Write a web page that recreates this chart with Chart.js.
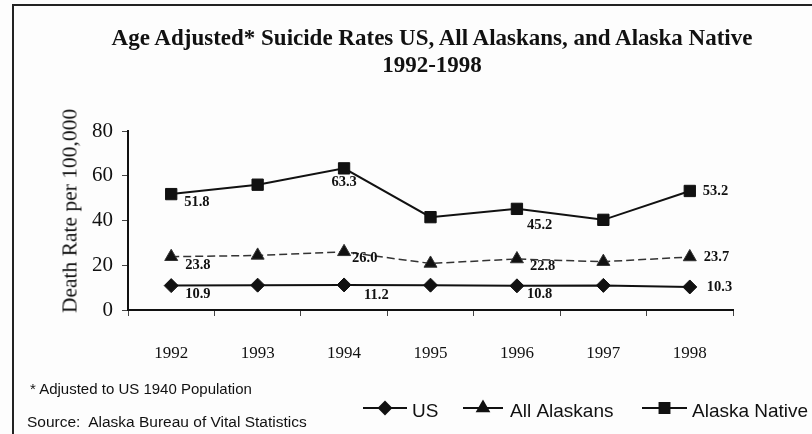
<!DOCTYPE html>
<html>
<head>
<meta charset="utf-8">
<script src="https://cdn.jsdelivr.net/npm/chart.js@4"></script>
<style>
  html, body { margin: 0; padding: 0; background: #fff; }
  #wrap { position: relative; width: 812px; height: 434px; overflow: hidden; background: #fdfdfd; }
  #frame { position: absolute; left: 12px; top: 4px; right: -4px; bottom: -4px; border-left: 2px solid #222; border-top: 2px solid #222; }
  canvas { position: absolute; left: 0; top: 0; }
  .txt { position: absolute; color: #111; white-space: nowrap; }
  #title { left: 0; width: 864px; top: 24px; text-align: center; font: bold 23px "Liberation Serif", serif; line-height: 27px; }
  #ytitle { left: 70px; top: 211px; font: 21.5px "Liberation Serif", serif; transform: translate(-50%, -50%) rotate(-90deg); }
  #note { left: 30px; top: 380px; font: 15px "Liberation Sans", sans-serif; }
  #source { left: 27px; top: 413px; font: 15.5px "Liberation Sans", sans-serif; }
</style>
</head>
<body>
<div id="wrap">
  <div id="frame"></div>
  <canvas id="chart" width="812" height="434"></canvas>
  <div id="title" class="txt">Age Adjusted* Suicide Rates US, All Alaskans, and Alaska Native<br>1992-1998</div>
  <div id="ytitle" class="txt">Death Rate per 100,000</div>
  <div id="note" class="txt">* Adjusted to US 1940 Population</div>
  <div id="source" class="txt">Source:&nbsp; Alaska Bureau of Vital Statistics</div>
</div>
<script>
const years = ['1992', '1993', '1994', '1995', '1996', '1997', '1998'];
const usRates = [10.9, 11.1, 11.2, 11.1, 10.8, 11.0, 10.3];
const allAlaskanRates = [23.8, 24.4, 26.0, 20.8, 22.8, 21.6, 23.7];
const nativeRates = [51.8, 56.0, 63.3, 41.5, 45.2, 40.3, 53.2];
const yTicks = [0, 20, 40, 60, 80];
// which points carry a value label
const labelIdx = [0, 2, 4, 6];

// label offsets from the point, per dataset (dx, dy, align)
const labelOffsets = [
  [[14, 9, 'left'], [20, 10, 'left'], [10, 8, 'left'], [17, 0, 'left']],
  [[14, 9, 'left'], [8, 6, 'left'], [13, 7, 'left'], [14, 0, 'left']],
  [[13, 8, 'left'], [0, 14, 'center'], [10, 16, 'left'], [13, 0, 'left']]
];

const valueLabels = {
  id: 'valueLabels',
  afterDatasetsDraw(chart) {
    const ctx = chart.ctx;
    ctx.save();
    ctx.fillStyle = '#111';
    ctx.font = 'bold 14.5px "Liberation Serif", serif';
    ctx.textBaseline = 'middle';
    chart.data.datasets.forEach((ds, di) => {
      const meta = chart.getDatasetMeta(di);
      labelIdx.forEach((i, k) => {
        const pt = meta.data[i];
        const [dx, dy, align] = labelOffsets[di][k];
        ctx.textAlign = align;
        ctx.fillText(ds.data[i].toFixed(1), pt.x + dx, pt.y + dy);
      });
    });
    ctx.restore();
  }
};

// legend drawn as line + marker, like the original
const lineLegend = {
  id: 'lineLegend',
  afterDraw(chart) {
    const ctx = chart.ctx;
    const y = 408;
    const items = [[363, 44, 412], [463, 40, 510], [642, 45, 692]];
    ctx.save();
    ctx.font = '19px "Liberation Sans", sans-serif';
    ctx.textBaseline = 'middle';
    ctx.textAlign = 'left';
    chart.data.datasets.forEach((ds, di) => {
      const [x0, len, tx] = items[di];
      ctx.strokeStyle = '#111';
      ctx.lineWidth = 2;
      ctx.setLineDash([]);
      ctx.beginPath();
      ctx.moveTo(x0, y);
      ctx.lineTo(x0 + len, y);
      ctx.stroke();
      ctx.fillStyle = '#111';
      Chart.helpers.drawPoint(ctx, {
        pointStyle: ds.pointStyle, radius: ds.pointRadius - 1, borderWidth: 1, rotation: 0
      }, x0 + len / 2, y);
      ctx.fillStyle = '#111';
      ctx.fillText(ds.label, tx, y + 4);
    });
    ctx.restore();
  }
};

new Chart(document.getElementById('chart'), {
  type: 'line',
  data: {
    labels: years,
    datasets: [
      {
        label: 'US', data: usRates, borderColor: '#111', backgroundColor: '#111',
        borderWidth: 2, pointStyle: 'rectRot', pointRadius: 7, pointBorderWidth: 1
      },
      {
        label: 'All Alaskans', data: allAlaskanRates, borderColor: '#333', backgroundColor: '#111',
        borderWidth: 1.5, borderDash: [8, 4], pointStyle: 'triangle', pointRadius: 7.5, pointBorderWidth: 1
      },
      {
        label: 'Alaska Native', data: nativeRates, borderColor: '#111', backgroundColor: '#111',
        borderWidth: 2, pointStyle: 'rect', pointRadius: 8, pointBorderWidth: 1
      }
    ]
  },
  options: {
    responsive: false,
    animation: false,
    layout: { padding: { left: 0, top: 131, right: 79, bottom: 0 } },
    plugins: { legend: { display: false }, title: { display: false }, tooltip: { enabled: false } },
    scales: {
      x: {
        offset: true,
        afterFit: s => { s.height = 124; },
        border: { color: '#111', width: 2 },
        grid: { drawOnChartArea: false, offset: true, tickLength: 6, color: '#444' },
        ticks: { color: '#111', padding: 27, font: { family: '"Liberation Serif", serif', size: 17 } }
      },
      y: {
        min: 0, max: 80,
        afterFit: s => { s.width = 128; },
        afterBuildTicks: s => { s.ticks = yTicks.map(v => ({ value: v })); },
        border: { color: '#111', width: 2 },
        grid: { drawOnChartArea: false, tickLength: 6, color: '#444' },
        ticks: { color: '#111', padding: 9, font: { family: '"Liberation Serif", serif', size: 21 } }
      }
    }
  },
  plugins: [valueLabels, lineLegend]
});
</script>
</body>
</html>
